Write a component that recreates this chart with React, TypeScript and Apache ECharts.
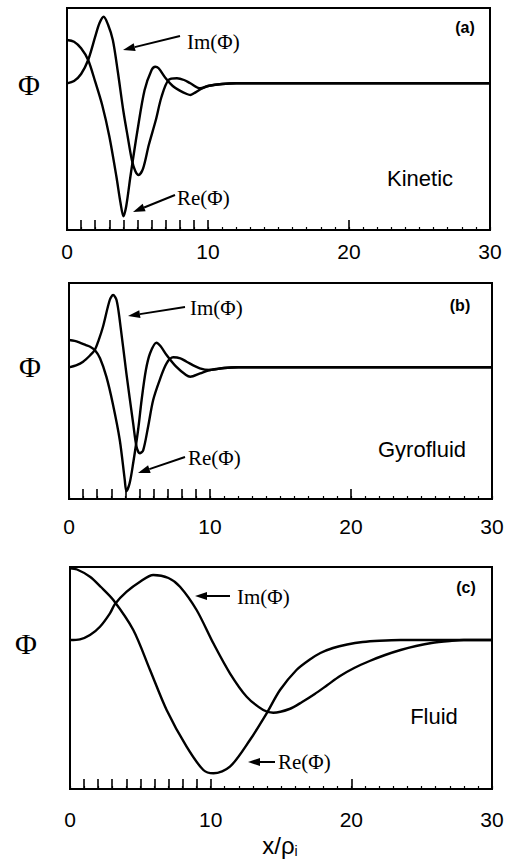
import React, { useEffect, useRef } from "react";
import * as echarts from "echarts";

// ---- Data ----
const xTickLabels = [0, 10, 20, 30];
const tallTicks = [1, 2, 3, 4, 5, 6, 7, 8, 9, 10, 20];

// (a) Kinetic
const kinReX = [0, 0.5, 1.0, 1.5, 2.0, 2.5, 3.0, 3.5, 3.8, 4.0, 4.2, 4.5, 5.0, 5.5, 6.0, 6.26, 6.5, 7.0, 7.5, 8.0, 8.5, 8.75, 9.0, 9.5, 10, 11, 12, 30];
const kinRe = [0.433, 0.416, 0.35, 0.233, 0.016, -0.22, -0.53, -0.93, -1.2, -1.33, -1.23, -0.93, -0.47, -0.07, 0.133, 0.166, 0.15, 0.05, -0.027, -0.073, -0.107, -0.117, -0.1, -0.057, -0.027, -0.007, 0, 0];
const kinImX = [0, 0.5, 1.0, 1.5, 2.0, 2.3, 2.6, 2.9, 3.25, 3.6, 4.0, 4.3, 4.6, 4.85, 5.08, 5.4, 5.8, 6.3, 6.7, 7.2, 7.8, 8.3, 8.75, 9.45, 10, 11, 12, 30];
const kinIm = [0, 0.023, 0.093, 0.233, 0.466, 0.6, 0.666, 0.59, 0.433, 0.12, -0.28, -0.53, -0.767, -0.88, -0.917, -0.85, -0.617, -0.367, -0.137, 0.033, 0.05, 0.033, 0, -0.05, -0.027, -0.007, 0, 0];

// (b) Gyrofluid
const gyroReX = [0, 0.4, 0.8, 1.2, 1.5, 1.83, 2.2, 2.65, 3.1, 3.6, 3.95, 4.07, 4.3, 4.55, 4.9, 5.15, 5.45, 5.75, 6.2, 6.5, 6.92, 7.6, 8.3, 8.6, 9.3, 10, 11, 12, 30];
const gyroRe = [0.273, 0.265, 0.245, 0.222, 0.206, 0.173, 0.09, -0.094, -0.36, -0.727, -1.12, -1.24, -1.16, -0.96, -0.627, -0.327, -0.03, 0.14, 0.246, 0.21, 0.123, 0.006, -0.077, -0.094, -0.06, -0.027, -0.007, 0, 0];
const gyroImX = [0, 0.5, 1.0, 1.5, 1.83, 2.1, 2.41, 2.89, 3.13, 3.37, 3.6, 4.07, 4.55, 4.79, 5.02, 5.26, 5.61, 5.97, 6.45, 6.92, 7.39, 7.9, 8.34, 9.28, 10, 11, 12, 30];
const gyroIm = [0, 0.02, 0.056, 0.12, 0.173, 0.27, 0.406, 0.673, 0.723, 0.673, 0.47, -0.06, -0.56, -0.794, -0.86, -0.83, -0.594, -0.327, -0.12, 0.04, 0.1, 0.09, 0.056, -0.01, -0.027, -0.007, 0, 0];

// (c) Fluid
const fluidReX = [0, 0.5, 1.42, 2.2, 3.08, 4.5, 5.69, 6.87, 8.29, 9.48, 10.2, 11.37, 12.79, 13.98, 14.93, 16.1, 17.0, 17.8, 18.7, 19.7, 20.8, 22.0, 23.5, 30];
const fluidRe = [0.717, 0.705, 0.633, 0.53, 0.4, 0.1, -0.3, -0.7, -1.067, -1.3, -1.333, -1.267, -1.0, -0.733, -0.5, -0.3, -0.2, -0.13, -0.08, -0.045, -0.02, -0.007, 0, 0];
const fluidImX = [0, 0.71, 1.42, 2.13, 2.84, 3.2, 4.03, 4.98, 5.92, 7.0, 7.82, 9.0, 10.19, 11.37, 12.56, 13.74, 14.45, 15.6, 16.5, 17.4, 18.3, 19.2, 20.2, 21.3, 22.4, 23.5, 24.6, 25.7, 27, 28, 30];
const fluidIm = [0, 0.007, 0.05, 0.133, 0.267, 0.36, 0.483, 0.583, 0.65, 0.62, 0.533, 0.3, -0.033, -0.333, -0.567, -0.7, -0.727, -0.69, -0.62, -0.54, -0.45, -0.36, -0.28, -0.21, -0.15, -0.1, -0.06, -0.03, -0.01, 0, 0];

const panelTags = ["(a)", "(b)", "(c)"];
const panelNames = ["Kinetic", "Gyrofluid", "Fluid"];
const yLabel = "Φ";
const imLabel = "Im(Φ)";
const reLabel = "Re(Φ)";

// ---- Layout ----
const panels = [
  { left: 67, top: 8, width: 423, height: 222, ymin: -1.467, ymax: 0.753, labelMargin: 11,
    re: [kinReX, kinRe], im: [kinImX, kinIm],
    phi: [29, 84], tag: [465, 27], name: [420, 178],
    imText: [187, 42], imArrow: [180, 36, 123, 50],
    reText: [177, 198], reArrow: [175, 195, 133, 212] },
  { left: 69, top: 283, width: 423, height: 216, ymin: -1.317, ymax: 0.843, labelMargin: 17,
    re: [gyroReX, gyroRe], im: [gyroImX, gyroIm],
    phi: [30, 366], tag: [460, 305], name: [422, 449],
    imText: [190, 308], imArrow: [185, 307, 128, 316],
    reText: [188, 458], reArrow: [185, 457, 138, 473] },
  { left: 70, top: 567, width: 422, height: 222, ymin: -1.49, ymax: 0.73, labelMargin: 20,
    re: [fluidReX, fluidRe], im: [fluidImX, fluidIm],
    phi: [26, 643], tag: [466, 587], name: [434, 716],
    imText: [237, 597], imArrow: [230, 596, 195, 596],
    reText: [278, 762], reArrow: [275, 762, 248, 762] },
];

function zip(xs: number[], ys: number[]) {
  return xs.map((x, i) => [x, ys[i]]);
}

function arrow(x1: number, y1: number, x2: number, y2: number) {
  const dx = x2 - x1, dy = y2 - y1;
  const len = Math.sqrt(dx * dx + dy * dy);
  const ux = dx / len, uy = dy / len;
  const L = 12, w = 4;
  const bx = x2 - ux * L, by = y2 - uy * L;
  const nx = -uy, ny = ux;
  return [
    { type: "line", shape: { x1, y1, x2: bx, y2: by }, style: { stroke: "#000", lineWidth: 2 } },
    { type: "polygon", shape: { points: [[x2, y2], [bx + nx * w, by + ny * w], [bx - nx * w, by - ny * w]] }, style: { fill: "#000" } },
  ];
}

export default function App() {
  const ref = useRef<HTMLDivElement>(null);
  useEffect(() => {
    if (!ref.current) return;
    const chart = echarts.init(ref.current, null, { renderer: "svg" });
    const grid: any[] = [];
    const xAxis: any[] = [];
    const yAxis: any[] = [];
    const series: any[] = [];
    const graphic: any[] = [];
    const sans = "Liberation Sans, Arial, sans-serif";
    const serif = "Liberation Serif, Times New Roman, serif";
    panels.forEach((p, i) => {
      grid.push({ left: p.left, top: p.top, width: p.width, height: p.height, show: true, borderColor: "#000", borderWidth: 2, backgroundColor: "transparent" });
      xAxis.push({
        gridIndex: i, type: "value", min: 0, max: 30, interval: 10, position: "bottom",
        axisLine: { show: false }, axisTick: { show: false }, splitLine: { show: false },
        axisLabel: { margin: p.labelMargin, fontSize: 21, color: "#000", fontFamily: sans, customValues: xTickLabels },
      });
      xAxis.push({
        gridIndex: i, type: "value", min: 0, max: 30, interval: 1, position: "bottom",
        axisLine: { show: false }, splitLine: { show: false }, axisLabel: { show: false },
        axisTick: { show: true, inside: true, length: 3, lineStyle: { color: "#000", width: 1.2 } },
      });
      xAxis.push({
        gridIndex: i, type: "value", min: 0, max: 30, interval: 1, position: "bottom",
        axisLine: { show: false }, splitLine: { show: false }, axisLabel: { show: false },
        axisTick: { show: true, inside: true, length: 10, customValues: tallTicks, lineStyle: { color: "#000", width: 1.6 } },
      });
      yAxis.push({
        gridIndex: i, type: "value", min: p.ymin, max: p.ymax,
        axisLine: { show: false }, axisTick: { show: false }, axisLabel: { show: false }, splitLine: { show: false },
      });
      const lineCfg = { type: "line", xAxisIndex: i * 3, yAxisIndex: i, showSymbol: false, symbol: "none", smooth: 0.3, lineStyle: { color: "#000", width: 2.4 }, silent: true };
      series.push({ ...lineCfg, name: "Re" + i, data: zip(p.re[0], p.re[1]) });
      series.push({ ...lineCfg, name: "Im" + i, data: zip(p.im[0], p.im[1]) });

      graphic.push({ type: "text", x: p.phi[0], y: p.phi[1], style: { text: yLabel, font: `30px ${serif}`, fill: "#000", align: "center", verticalAlign: "middle" } });
      graphic.push({ type: "text", x: p.tag[0], y: p.tag[1], style: { text: panelTags[i], font: `bold 16px ${sans}`, fill: "#000", align: "center", verticalAlign: "middle" } });
      graphic.push({ type: "text", x: p.name[0], y: p.name[1], style: { text: panelNames[i], font: `22px ${sans}`, fill: "#000", align: "center", verticalAlign: "middle" } });
      graphic.push({ type: "text", x: p.imText[0], y: p.imText[1], style: { text: imLabel, font: `21px ${serif}`, fill: "#000", align: "left", verticalAlign: "middle" } });
      graphic.push({ type: "text", x: p.reText[0], y: p.reText[1], style: { text: reLabel, font: `21px ${serif}`, fill: "#000", align: "left", verticalAlign: "middle" } });
      const a1 = p.imArrow, a2 = p.reArrow;
      graphic.push(...arrow(a1[0], a1[1], a1[2], a1[3]));
      graphic.push(...arrow(a2[0], a2[1], a2[2], a2[3]));
    });
    graphic.push({
      type: "text", x: 280, y: 845,
      style: {
        text: "{m|x/ρ}{s|i}", fill: "#000", align: "center", verticalAlign: "middle",
        rich: {
          m: { fontSize: 24, fontFamily: sans, fill: "#000" },
          s: { fontSize: 14, fontFamily: sans, fill: "#000", padding: [12, 0, 0, 0] },
        },
      },
    });
    chart.setOption({ animation: false, backgroundColor: "#fff", grid, xAxis, yAxis, series, graphic });
    return () => chart.dispose();
  }, []);
  return <div ref={ref} style={{ position: "fixed", left: 0, top: 0, width: 516, height: 868 }} />;
}
